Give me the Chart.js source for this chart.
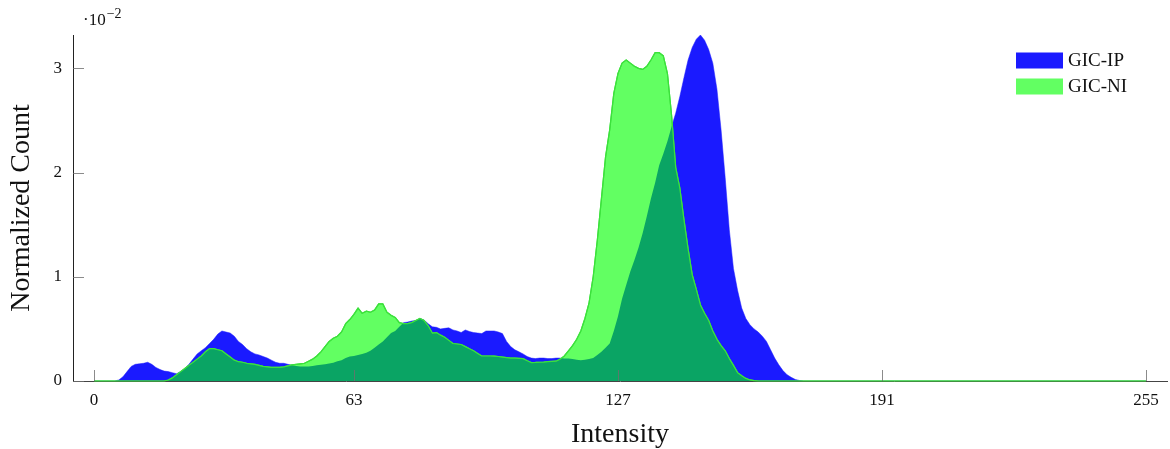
<!DOCTYPE html>
<html>
<head>
<meta charset="utf-8">
<script src="https://cdn.jsdelivr.net/npm/chart.js@4.4.1/dist/chart.umd.min.js"></script>
<style>
  html, body { margin: 0; padding: 0; background: #ffffff; }
  #c { display: block; }
</style>
</head>
<body>
<canvas id="c" width="1170" height="449"></canvas>
<script>
// ---------------- DATA ----------------
const intensity = [
  0,1,2,3,4,5,6,7,8,9, 10,11,12,13,14,15,16,17,18,19, 20,21,22,23,24,25,26,27,28,29,
  30,31,32,33,34,35,36,37,38,39, 40,41,42,43,44,45,46,47,48,49, 50,51,52,53,54,55,56,57,58,59,
  60,61,62,63,64,65,66,67,68,69, 70,71,72,73,74,75,76,77,78,79, 80,81,82,83,84,85,86,87,88,89,
  90,91,92,93,94,95,96,97,98,99, 100,101,102,103,104,105,106,107,108,109, 110,111,112,113,114,115,116,117,118,119,
  120,121,122,123,124,125,126,127,128,129, 130,131,132,133,134,135,136,137,138,139, 140,141,142,143,144,145,146,147,148,149,
  150,151,152,153,154,155,156,157,158,159, 160,161,162,163,164,165,166,167,168,169, 170,171,172,173,174,175,176,177,178,179,
  180,181,182,183,184,185,186,187,188,189, 190,191,192,193,194,195,196,197,198,199, 200,201,202,203,204,205,206,207,208,209,
  210,211,212,213,214,215,216,217,218,219, 220,221,222,223,224,225,226,227,228,229, 230,231,232,233,234,235,236,237,238,239,
  240,241,242,243,244,245,246,247,248,249, 250,251,252,253,254,255
];

// GIC-IP (values in units of 1e-2)
const gicIP = [
  0,0,0,0,0,0,0.01,0.04,0.09,0.14,
  0.16,0.165,0.17,0.18,0.16,0.13,0.11,0.095,0.09,0.08,
  0.07,0.09,0.12,0.16,0.21,0.26,0.29,0.32,0.36,0.40,
  0.45,0.48,0.47,0.46,0.43,0.38,0.35,0.31,0.28,0.26,
  0.25,0.235,0.22,0.20,0.18,0.17,0.17,0.16,0.15,0.145,
  0.14,0.14,0.14,0.145,0.15,0.155,0.16,0.167,0.175,0.19,
  0.2,0.22,0.235,0.24,0.25,0.26,0.27,0.29,0.32,0.35,
  0.38,0.42,0.46,0.48,0.52,0.56,0.565,0.575,0.58,0.60,
  0.585,0.55,0.52,0.515,0.50,0.505,0.51,0.49,0.48,0.465,
  0.49,0.475,0.465,0.46,0.455,0.48,0.48,0.48,0.47,0.455,
  0.38,0.33,0.30,0.28,0.26,0.235,0.22,0.215,0.22,0.22,
  0.215,0.215,0.22,0.22,0.215,0.215,0.21,0.205,0.2,0.205,
  0.21,0.22,0.25,0.28,0.32,0.36,0.48,0.62,0.79,0.92,
  1.05,1.16,1.28,1.42,1.58,1.75,1.90,2.07,2.18,2.30,
  2.44,2.57,2.73,2.91,3.08,3.20,3.28,3.32,3.27,3.18,
  3.05,2.80,2.41,1.95,1.45,1.08,0.87,0.70,0.60,0.54,
  0.50,0.47,0.43,0.38,0.30,0.22,0.155,0.10,0.06,0.035,
  0.015,0.005,0,0,0,0,0,0,0,0,
  0,0,0,0,0,0,0,0,0,0,
  0,0,0,0,0,0,0,0,0,0,
  0,0,0,0,0,0,0,0,0,0,
  0,0,0,0,0,0,0,0,0,0,
  0,0,0,0,0,0,0,0,0,0,
  0,0,0,0,0,0,0,0,0,0,
  0,0,0,0,0,0,0,0,0,0,
  0,0,0,0,0,0
];

// GIC-NI (values in units of 1e-2)
const gicNI = [
  0,0,0,0,0,0,0,0,0,0,
  0,0,0,0,0,0,0,0,0.01,0.03,
  0.06,0.09,0.12,0.15,0.18,0.21,0.24,0.28,0.31,0.31,
  0.30,0.29,0.26,0.23,0.20,0.185,0.18,0.17,0.165,0.16,
  0.15,0.14,0.135,0.13,0.13,0.13,0.135,0.145,0.155,0.16,
  0.165,0.17,0.19,0.21,0.24,0.28,0.33,0.38,0.41,0.43,
  0.47,0.55,0.59,0.64,0.70,0.65,0.67,0.66,0.68,0.74,
  0.74,0.66,0.63,0.61,0.56,0.55,0.55,0.56,0.58,0.60,
  0.58,0.53,0.46,0.465,0.44,0.42,0.39,0.36,0.355,0.35,
  0.33,0.31,0.29,0.265,0.24,0.24,0.24,0.238,0.235,0.23,
  0.225,0.22,0.22,0.218,0.215,0.195,0.177,0.178,0.18,0.182,
  0.185,0.188,0.19,0.21,0.24,0.29,0.34,0.40,0.48,0.60,
  0.75,1.00,1.35,1.75,2.15,2.41,2.76,2.95,3.05,3.08,
  3.05,3.02,3.00,2.99,3.02,3.08,3.15,3.15,3.12,2.95,
  2.55,2.05,1.85,1.55,1.27,1.02,0.88,0.73,0.65,0.58,
  0.48,0.40,0.34,0.29,0.215,0.15,0.08,0.05,0.025,0.01,
  0.003,0,0,0,0,0,0,0,0,0,
  0,0,0,0,0,0,0,0,0,0,
  0,0,0,0,0,0,0,0,0,0,
  0,0,0,0,0,0,0,0,0,0,
  0,0,0,0,0,0,0,0,0,0,
  0,0,0,0,0,0,0,0,0,0,
  0,0,0,0,0,0,0,0,0,0,
  0,0,0,0,0,0,0,0,0,0,
  0,0,0,0,0,0,0,0,0,0,
  0,0,0,0,0,0
];

const seriesLabels = ['GIC-IP', 'GIC-NI'];
const xTickValues = [0, 63, 127, 191, 255];
const yTickValues = [0, 1, 2, 3];
const xTitle = 'Intensity';
const yTitle = 'Normalized Count';

// ---------------- STYLE ----------------
const SERIF = "'Liberation Serif', 'DejaVu Serif', serif";
const BLUE = 'rgb(26,26,255)';
const GREEN = 'rgb(98,255,98)';
const GREEN_LINE = 'rgb(60,225,60)';
const OVERLAP = 'rgb(10,164,100)';

const toPts = (ys) => intensity.map((x, i) => ({ x: x, y: ys[i] }));

function areaPath(ctx, meta, y0) {
  const pts = meta.data;
  ctx.beginPath();
  meta.dataset.path(ctx);
  ctx.lineTo(pts[pts.length - 1].x, y0);
  ctx.lineTo(pts[0].x, y0);
  ctx.closePath();
}

const overlapPlugin = {
  id: 'overlap',
  afterDatasetsDraw(chart) {
    const ctx = chart.ctx;
    const area = chart.chartArea;
    const y0 = chart.scales.y.getPixelForValue(0);
    const ip = chart.getDatasetMeta(0);
    const ni = chart.getDatasetMeta(1);
    // overlap region in dark green
    ctx.save();
    ctx.beginPath();
    ctx.rect(area.left, area.top, area.right - area.left, area.bottom - area.top);
    ctx.clip();
    areaPath(ctx, ip, y0);
    ctx.clip();
    areaPath(ctx, ni, y0);
    ctx.fillStyle = OVERLAP;
    ctx.fill();
    ctx.restore();
    // green outline on top
    ctx.save();
    ctx.beginPath();
    ctx.rect(area.left, area.top - 2, area.right - area.left, area.bottom - area.top + 4);
    ctx.clip();
    ctx.beginPath();
    ni.dataset.path(ctx);
    ctx.strokeStyle = GREEN_LINE;
    ctx.lineWidth = 1.2;
    ctx.lineJoin = 'round';
    ctx.stroke();
    ctx.restore();
    // inward tick marks
    const xs = chart.scales.x, ys = chart.scales.y;
    ctx.save();
    ctx.strokeStyle = 'rgba(110,110,110,0.8)';
    ctx.lineWidth = 1;
    xTickValues.forEach(v => {
      const px = Math.round(xs.getPixelForValue(v)) + 0.5;
      ctx.beginPath(); ctx.moveTo(px, y0); ctx.lineTo(px, y0 - 11); ctx.stroke();
    });
    yTickValues.forEach(v => {
      const py = Math.round(ys.getPixelForValue(v)) + 0.5;
      ctx.beginPath(); ctx.moveTo(area.left, py); ctx.lineTo(area.left + 11, py); ctx.stroke();
    });
    ctx.restore();
  },
  afterDraw(chart) {
    const ctx = chart.ctx;
    ctx.save();
    // exponent label
    ctx.fillStyle = '#111';
    ctx.textBaseline = 'alphabetic';
    ctx.textAlign = 'left';
    ctx.font = '17px ' + SERIF;
    ctx.fillText('\u00b710', 83, 25);
    const w = ctx.measureText('\u00b710').width;
    ctx.font = '14px ' + SERIF;
    ctx.fillText('\u22122', 83 + w + 1, 18);
    // legend
    const colors = [BLUE, GREEN];
    const rows = [60.5, 86.5];
    rows.forEach((cy, i) => {
      ctx.fillStyle = colors[i];
      ctx.fillRect(1016, cy - 8, 47, 16);
      ctx.fillStyle = '#111';
      ctx.font = '19px ' + SERIF;
      ctx.textBaseline = 'middle';
      ctx.fillText(seriesLabels[i], 1068, cy + 1);
    });
    ctx.restore();
  }
};

new Chart(document.getElementById('c'), {
  type: 'line',
  data: {
    datasets: [
      {
        label: seriesLabels[0],
        data: toPts(gicIP),
        backgroundColor: BLUE,
        borderColor: BLUE,
        borderWidth: 0.5,
        fill: 'origin',
        order: 2
      },
      {
        label: seriesLabels[1],
        data: toPts(gicNI),
        backgroundColor: GREEN,
        borderColor: GREEN_LINE,
        borderWidth: 1.2,
        fill: 'origin',
        order: 1
      }
    ]
  },
  options: {
    responsive: false,
    animation: false,
    events: [],
    layout: { padding: { left: 0, right: 3, top: 35, bottom: 0 } },
    elements: { point: { radius: 0 }, line: { tension: 0 } },
    plugins: { legend: { display: false }, tooltip: { enabled: false } },
    scales: {
      x: {
        type: 'linear',
        min: -5.1,
        max: 260.1,
        grid: { display: false, drawTicks: false },
        border: { display: true, color: '#444', width: 1 },
        afterBuildTicks: (s) => { s.ticks = xTickValues.map(v => ({ value: v })); },
        afterFit: (s) => { s.height = 68; },
        ticks: {
          padding: 9, color: '#111', autoSkip: false, maxRotation: 0,
          font: { family: SERIF, size: 17 },
          callback: (v) => String(v)
        },
        title: {
          display: true, text: xTitle, color: '#111',
          font: { family: SERIF, size: 28, lineHeight: 1 },
          padding: { top: 0, bottom: 0 }
        }
      },
      y: {
        min: 0,
        max: 3.32,
        grid: { display: false, drawTicks: false },
        border: { display: true, color: '#222', width: 1 },
        afterBuildTicks: (s) => { s.ticks = yTickValues.map(v => ({ value: v })); },
        afterFit: (s) => { s.width = 73; },
        ticks: {
          padding: 11, color: '#111',
          font: { family: SERIF, size: 17 },
          callback: (v) => String(v)
        },
        title: {
          display: true, text: yTitle, color: '#111',
          font: { family: SERIF, size: 28, lineHeight: 1 },
          padding: { top: 8, bottom: 0 }
        }
      }
    }
  },
  plugins: [overlapPlugin]
});
</script>
</body>
</html>
